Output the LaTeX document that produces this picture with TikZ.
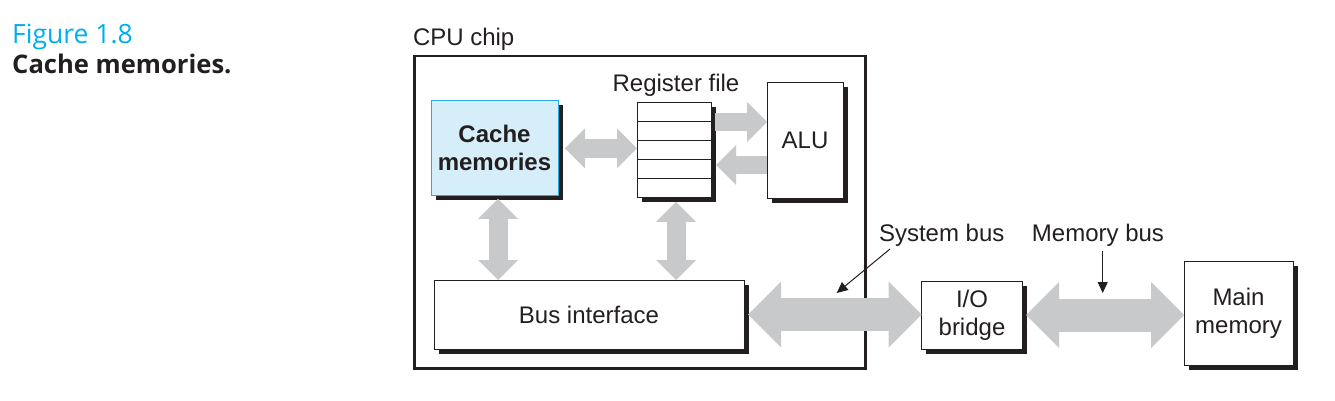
\documentclass[tikz,border=0pt]{standalone}
\usepackage{fontspec}
\setmainfont{Liberation Sans}
\newfontfamily\figfont{Open Sans}
\usetikzlibrary{arrows.meta,shadows,calc}
\definecolor{ink}{RGB}{35,31,32}
\definecolor{busgray}{RGB}{200,201,203}
\definecolor{cachefill}{RGB}{214,238,250}
\definecolor{cacheline}{RGB}{41,171,226}
\definecolor{figcyan}{RGB}{0,174,239}
\begin{document}
\begin{tikzpicture}[x=1pt,y=-1pt,
  txt/.style={font=\fontsize{24}{28}\selectfont, text=ink, outer sep=0pt, inner sep=0pt},
  unit/.style={txt, draw=ink, line width=1pt, fill=white, align=center,
    drop shadow={shadow xshift=4.5pt, shadow yshift=-4.5pt, fill=ink, opacity=1}},
  smallbus/.style={busgray, line width=19pt,
    {Triangle[length=20pt,width=40pt,line width=0pt]}-{Triangle[length=20pt,width=40pt,line width=0pt]}},
  oneway/.style={busgray, line width=18pt, -{Triangle[length=20pt,width=40pt,line width=0pt]}},
  bigbus/.style={busgray, line width=33pt,
    {Triangle[length=33pt,width=66pt,line width=0pt]}-{Triangle[length=33pt,width=66pt,line width=0pt]}},
  pointer/.style={ink, line width=1pt, -{Triangle[length=11pt,width=10pt]}}
]
\useasboundingbox (0,0) rectangle (1335,401);

% caption
\node[anchor=base west, inner sep=0pt, font=\figfont\fontsize{26.5}{30}\selectfont, text=figcyan] (fig) at (12,44) {Figure 1.8};
\node[anchor=base west, inner sep=0pt, font=\figfont\bfseries\fontsize{25.6}{30}\selectfont, text=ink] (cap) at (12,74) {Cache memories.};

% CPU chip
\node[draw=ink, line width=2.5pt, minimum width=451pt, minimum height=312pt, anchor=north west, inner sep=0pt] (cpu) at (413,55) {};
\node[txt, anchor=base west] (cpulbl) at (413,46) {CPU chip};

% units
\node[unit, fill=cachefill, draw=cacheline, minimum width=127pt, minimum height=95pt,
      font=\fontsize{24}{28}\selectfont\bfseries] (cache) at (494.5,148.4) {Cache\\memories};
\node[unit, minimum width=74pt, minimum height=94.5pt] (reg) at (674,150) {};
\foreach \k in {1,...,4}
  \draw[ink, line width=1pt] ($(reg.north west)!\k/5!(reg.south west)$) -- ($(reg.north east)!\k/5!(reg.south east)$);
\node[txt, anchor=base] (reglbl) at (676,92) {Register file};
\node[unit, minimum width=76pt, minimum height=115pt] (alu) at (805,140.5) {ALU};
\node[unit, minimum width=310pt, minimum height=69pt] (bus) at (589,314.5) {Bus interface};
\node[unit, minimum width=101pt, minimum height=68pt] (io) at (972,315) {I/O\\bridge};
\node[unit, minimum width=109pt, minimum height=104pt] (mem) at (1238.5,313) {Main\\memory};

% internal buses
\draw[smallbus] ([xshift=7pt]cache.east) -- (cache.east -| reg.west);
\coordinate (r1) at ([xshift=4pt,yshift=28pt]reg.east);
\draw[oneway] (r1) -- (r1 -| alu.west);
\coordinate (r2) at ([xshift=5pt,yshift=-15pt]reg.east);
\draw[oneway] (r2 -| alu.west) -- (r2);
\coordinate (c1) at ([xshift=3.5pt,yshift=-3pt]cache.south);
\draw[smallbus] (c1) -- (c1 |- bus.north);
\coordinate (c2) at ([xshift=2pt,yshift=-4.7pt]reg.south);
\draw[smallbus] (c2) -- (c2 |- bus.north);

% external buses
\draw[bigbus] ([xshift=4pt]bus.east) -- (bus.east -| io.west);
\draw[bigbus] ([xshift=3.5pt]io.east) -- (io.east -| mem.west);

% labels
\node[txt, anchor=base] (sysl) at (941.7,241) {System bus};
\node[txt, anchor=base] (meml) at (1098,241) {Memory bus};
\coordinate (s0) at (890,249);
\coordinate (s1) at (836.7,293);
\draw[pointer] (s0) -- (s1);
\coordinate (m0) at (1102.7,251);
\coordinate (m1) at (1102.7,293);
\draw[pointer] (m0) -- (m1);
\end{tikzpicture}
\end{document}
